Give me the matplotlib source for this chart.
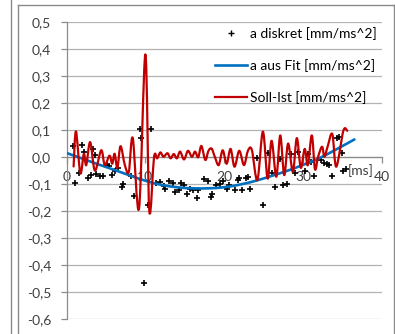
import matplotlib
matplotlib.use("Agg")
import matplotlib.pyplot as plt
from matplotlib.lines import Line2D
from matplotlib.path import Path
from matplotlib.patches import PathPatch

plt.rcParams['font.family'] = ['Lato', 'DejaVu Sans']

# ---- data ----
x_diskret = [0.83, 1.04, 1.55, 1.97, 2.27, 2.7, 3.1, 3.4, 3.6, 3.8, 4.2, 4.6, 5.1, 5.4, 5.8,
             6.2, 6.5, 7.0, 7.2, 8.2, 8.6, 9.3, 9.5, 9.87, 10.3, 10.7, 11.4, 11.9, 12.3, 12.5,
             13.0, 13.5, 13.7, 14.2, 14.5, 14.9, 15.3, 15.6, 16.1, 16.5, 16.7, 17.4, 17.9, 18.3,
             18.5, 18.9, 19.4, 19.8, 20.4, 20.6, 21.4, 21.7, 21.9, 22.3, 22.7, 23.0, 23.3, 24.1,
             24.9, 25.6, 26.0, 26.4, 27.1, 27.5, 28.0, 28.4, 29.0, 29.3, 30.3, 30.6, 31.0, 31.4,
             32.3, 32.6, 33.0, 33.3, 33.7, 34.3, 34.6, 34.9, 35.1, 35.4]
y_diskret = [0.041, -0.095, -0.058, 0.043, 0.017, -0.079, -0.067, 0.030, 0.007, -0.064, -0.069,
             -0.070, -0.028, -0.032, -0.068, -0.052, -0.042, -0.110, -0.101, -0.070, -0.145,
             0.103, 0.072, -0.468, -0.178, 0.103, -0.098, -0.091, -0.107, -0.117, -0.088,
             -0.098, -0.128, -0.122, -0.095, -0.104, -0.137, -0.120, -0.122, -0.153, -0.122,
             -0.083, -0.089, -0.147, -0.137, -0.104, -0.100, -0.088, -0.120, -0.105, -0.122,
             -0.085, -0.079, -0.122, -0.079, -0.073, -0.120, -0.002, -0.178, 0.016, -0.060,
             -0.110, -0.009, -0.104, -0.101, 0.010, -0.060, 0.020, -0.052, 0.011, -0.017,
             -0.070, -0.011, -0.023, -0.027, -0.030, -0.069, 0.070, 0.075, 0.014, -0.051,
             -0.046]

x_fit = [0, 2, 4, 6, 8, 10, 12, 14, 16, 18, 20, 22, 24, 26, 28, 30, 32, 34, 36.5]
y_fit = [0.015, -0.006, -0.027, -0.047, -0.068, -0.088, -0.103, -0.112, -0.116, -0.116,
         -0.112, -0.102, -0.088, -0.070, -0.051, -0.029, -0.005, 0.025, 0.065]

x_soll = [0.9, 1.2, 1.75, 2.2, 2.5, 3.0, 3.6, 4.4, 4.85, 5.45, 5.8, 6.1, 6.45, 6.85, 7.4,
          7.9, 8.4, 9.2, 10.0, 10.5, 11.1, 11.5, 11.9, 12.3, 12.8, 13.2, 13.6, 14.0, 14.4,
          14.9, 15.4, 15.9, 16.3, 16.7, 17.1, 17.6, 18.0, 18.4, 18.8, 19.3, 19.8, 20.3, 20.8,
          21.3, 21.9, 22.5, 23.0, 23.5, 24.2, 24.9, 25.5, 26.0, 26.6, 27.1, 27.6, 28.1, 28.7,
          29.2, 29.7, 30.2, 30.6, 31.1, 31.5, 31.9, 32.4, 32.7, 33.1, 33.7, 34.2, 35.1, 35.6]
y_soll = [-0.035, 0.095, -0.060, 0.012, -0.030, 0.055, -0.050, 0.025, -0.030, 0.005, -0.025,
          0.012, -0.040, 0.040, -0.030, -0.055, 0.070, -0.190, 0.380, -0.200, 0.000, -0.005,
          0.017, 0.001, 0.014, -0.005, 0.011, -0.005, 0.020, -0.009, 0.023, 0.001, 0.020,
          -0.001, 0.041, -0.011, 0.023, 0.031, 0.001, -0.030, 0.025, -0.025, 0.030, -0.036,
          0.023, -0.030, 0.023, 0.026, -0.085, 0.094, -0.080, 0.060, -0.073, 0.080, -0.067,
          0.050, -0.055, 0.070, -0.040, 0.030, -0.030, 0.080, -0.045, 0.001, 0.038, 0.001,
          0.038, 0.085, -0.036, 0.097, 0.097]

y_ticks = [0.5, 0.4, 0.3, 0.2, 0.1, 0.0, -0.1, -0.2, -0.3, -0.4, -0.5, -0.6]
x_ticks = [0, 10, 20, 30, 40]


def smooth_path(xs, ys):
    """Excel-style smoothed line: Bezier segments through the data points."""
    pts = list(zip(xs, ys))
    n = len(pts)
    verts = [pts[0]]
    codes = [Path.MOVETO]
    for i in range(n - 1):
        p0 = pts[i - 1] if i > 0 else pts[i]
        p1 = pts[i]
        p2 = pts[i + 1]
        p3 = pts[i + 2] if i + 2 < n else pts[i + 1]
        c1 = (p1[0] + (p2[0] - p0[0]) / 6, p1[1] + (p2[1] - p0[1]) / 6)
        c2 = (p2[0] - (p3[0] - p1[0]) / 6, p2[1] - (p3[1] - p1[1]) / 6)
        verts += [c1, c2, p2]
        codes += [Path.CURVE4] * 3
    return Path(verts, codes)


# ---- figure ----
W, H = 395, 334
fig = plt.figure(figsize=(W / 100, H / 100), dpi=100)
ax = fig.add_axes([66.5 / W, (H - 319) / H, (382 - 66.5) / W, (319 - 22) / H])

txt_col = '#404040'
grid_col = '#b3b3b3'
axis_col = '#8c8c8c'
blue = '#0070C0'
red = '#C00000'

ax.scatter(x_diskret, y_diskret, marker='+', s=20, linewidths=1.2, color='black',
           zorder=3)
ax.add_patch(PathPatch(smooth_path(x_fit, y_fit), fill=False, edgecolor=blue, lw=1.9,
                       zorder=4, capstyle='round', joinstyle='round'))
ax.add_patch(PathPatch(smooth_path(x_soll, y_soll), fill=False, edgecolor=red, lw=1.6,
                       zorder=5, capstyle='round', joinstyle='round'))

ax.set_xlim(0, 40)
ax.set_ylim(-0.6, 0.5)
ax.set_yticks(y_ticks)
ax.set_yticklabels([f"{v:.1f}".replace('.', ',').replace('-0,0', '0,0') for v in y_ticks])
ax.set_xticks(x_ticks)
ax.set_xticklabels([str(v) for v in x_ticks])

ax.yaxis.grid(True, color=grid_col, lw=0.9)
ax.set_axisbelow(True)
for s in ['top', 'right']:
    ax.spines[s].set_visible(False)
ax.spines['left'].set_color(axis_col)
ax.spines['bottom'].set_color(axis_col)
ax.spines['bottom'].set_position(('data', 0))
ax.spines['left'].set_linewidth(0.9)
ax.spines['bottom'].set_linewidth(0.9)
ax.tick_params(axis='y', length=4, width=0.9, color=axis_col, pad=7, labelsize=10,
               labelcolor=txt_col)
ax.tick_params(axis='x', length=4, width=0.9, color=axis_col, pad=6, labelsize=10,
               labelcolor=txt_col, direction='out')
ax.annotate('[ms]', xy=(40, 0), xycoords='data', xytext=(-8, -7),
            textcoords='offset pixels', ha='right', va='top', fontsize=10, color=txt_col)

handles = [Line2D([], [], marker='+', ls='none', color='black', ms=5, mew=1.0),
           Line2D([], [], color=blue, lw=1.9),
           Line2D([], [], color=red, lw=1.6)]
labels = ['a diskret [mm/ms^2]', 'a aus Fit [mm/ms^2]', 'Soll-Ist [mm/ms^2]']
leg = ax.legend(handles, labels, loc='upper left', bbox_to_anchor=(215 / W, 1 - 27 / H),
                bbox_transform=fig.transFigure, frameon=False, fontsize=10,
                handlelength=2.3, handletextpad=0.25, labelspacing=1.37, borderpad=0,
                borderaxespad=0)
for t in leg.get_texts():
    t.set_color('black')

# chart frame
frame_col = '#8a8a8a'
fig.add_artist(Line2D([18 / W, 18 / W], [0, 1 - 5 / H], transform=fig.transFigure,
                      color=frame_col, lw=1.0))
fig.add_artist(Line2D([18 / W, 394 / W], [1 - 5 / H, 1 - 5 / H], transform=fig.transFigure,
                      color=frame_col, lw=1.0))
fig.add_artist(Line2D([394 / W, 394 / W], [0, 1 - 5 / H], transform=fig.transFigure,
                      color=frame_col, lw=1.0))
fig.add_artist(Line2D([11 / W, 11 / W], [0, 1], transform=fig.transFigure,
                      color=frame_col, lw=1.0))

fig.savefig('out.png', dpi=100)
